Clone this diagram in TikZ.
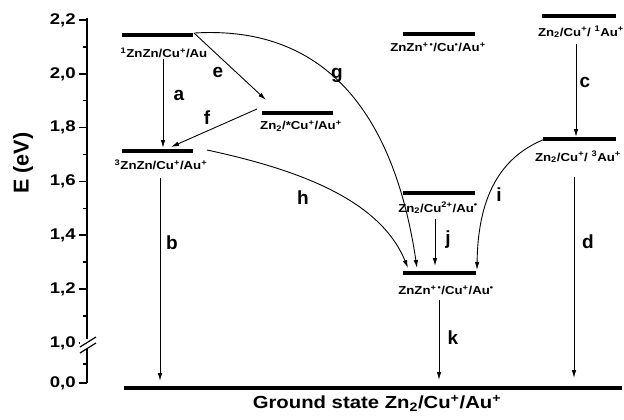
\documentclass[tikz,border=0pt]{standalone}
\usepackage{fontspec}
\setmainfont{Liberation Sans}
\usetikzlibrary{arrows.meta}
\begin{document}
\begin{tikzpicture}[x=1pt,y=-1pt,
  level/.style={fill=black,draw=none,inner sep=0pt,minimum height=3.2pt},
  statelab/.style={inner sep=0pt,xscale=1.15,font=\bfseries\fontsize{11.5}{12}\selectfont},
  letter/.style={inner sep=0pt,font=\bfseries\fontsize{19}{20}\selectfont},
  ticklab/.style={inner sep=0pt,anchor=east,xscale=1.2,font=\bfseries\fontsize{15.5}{16}\selectfont},
  arr/.style={line width=0.9pt,-{Latex[length=8pt,width=4.5pt]}},
  axisline/.style={line width=1.5pt}]
\useasboundingbox (0,0) rectangle (624,420);
% axis
\coordinate (ax0) at (87,18);
\coordinate (ax1) at (87,383);
\draw[axisline] (ax0) -- (ax1);
\foreach \e/\lab in {2.2/{2,2},2.0/{2,0},1.8/{1,8},1.6/{1,6},1.4/{1,4},1.2/{1,2},1.0/{1,0}}{
  \pgfmathsetmacro{\yy}{20+(2.2-\e)*269}
  \draw[axisline] (79,\yy) -- (87,\yy);
  \node[ticklab] at (76,\yy) {\lab};
}
\foreach \e in {2.1,1.9,1.7,1.5,1.3,1.1}{
  \pgfmathsetmacro{\yy}{20+(2.2-\e)*269}
  \draw[axisline] (83,\yy) -- (87,\yy);
}
\draw[axisline] (83,364) -- (87,364);
\draw[axisline] (79,383) -- (87,383);
\node[ticklab] at (76,383) {0,0};
% axis break
\fill[white] (80,339) rectangle (95,349);
\draw[line width=1.2pt] (80,347) -- (96,337);
\draw[line width=1.2pt] (80,353) -- (96,343);
\node[rotate=90,inner sep=0pt,font=\bfseries\fontsize{21.5}{22}\selectfont] (ylab) at (23,163) {E (eV)};
% levels
\node[level,minimum width=71pt] (L1) at (157.5,35) {};
\node[level,minimum width=71pt] (L2) at (157.5,151) {};
\node[level,minimum width=71pt] (L3) at (297.5,113) {};
\node[level,minimum width=72pt] (L4) at (439,34) {};
\node[level,minimum width=74pt] (L5) at (579,16) {};
\node[level,minimum width=73pt] (L6) at (579.5,139) {};
\node[level,minimum width=72pt] (L7) at (439,193) {};
\node[level,minimum width=73pt] (L8) at (439.5,273) {};
\node[level,minimum width=498pt] (G) at (373,388) {};
% state labels
\node[statelab] (T1) at (164,53) {\textsuperscript{1}ZnZn/Cu\textsuperscript{+}/Au};
\node[statelab] (T2) at (161,165) {\textsuperscript{3}ZnZn/Cu\textsuperscript{+}/Au\textsuperscript{+}};
\node[statelab] (T3) at (301,126) {Zn\textsubscript{2}/*Cu\textsuperscript{+}/Au\textsuperscript{+}};
\node[statelab] (T4) at (438,47) {ZnZn\textsuperscript{+\,•}/Cu\textsuperscript{•}/Au\textsuperscript{+}};
\node[statelab] (T5) at (581,32) {Zn\textsubscript{2}/Cu\textsuperscript{+}/ \textsuperscript{1}Au\textsuperscript{+}};
\node[statelab] (T6) at (578,157) {Zn\textsubscript{2}/Cu\textsuperscript{+}/ \textsuperscript{3}Au\textsuperscript{+}};
\node[statelab] (T7) at (438,208) {Zn\textsubscript{2}/Cu\textsuperscript{2+}/Au\textsuperscript{•}};
\node[statelab] (T8) at (446,290) {ZnZn\textsuperscript{+\,•}/Cu\textsuperscript{+}/Au\textsuperscript{•}};
\node[inner sep=0pt,xscale=1.16,font=\bfseries\fontsize{17.5}{18}\selectfont] (GT) at (377,403) {Ground state Zn\textsubscript{2}/Cu\textsuperscript{+}/Au\textsuperscript{+}};
% arrow end points
\coordinate (a0) at (163,59);  \coordinate (a1) at (163,148);
\coordinate (b0) at (160,178); \coordinate (b1) at (160,381);
\coordinate (c0) at (576,44);  \coordinate (c1) at (576,137);
\coordinate (d0) at (574,177); \coordinate (d1) at (574,378);
\coordinate (e0) at (194,33);  \coordinate (e1) at (266,100);
\coordinate (f0) at (257,109); \coordinate (f1) at (171,147);
\coordinate (g0) at (195,33);  \coordinate (g1) at (417,268);
\coordinate (h0) at (207,150); \coordinate (h1) at (408,268);
\coordinate (i0) at (545,139); \coordinate (i1) at (477,270);
\coordinate (j0) at (435,219); \coordinate (j1) at (435,266);
\coordinate (k0) at (439,300); \coordinate (k1) at (439,380);
% arrows
\draw[arr] (a0) -- (a1);
\draw[arr] (b0) -- (b1);
\draw[arr] (c0) -- (c1);
\draw[arr] (d0) -- (d1);
\draw[arr] (e0) -- (e1);
\draw[arr] (f0) -- (f1);
\draw[arr] (g0) .. controls (330,25) and (395,120) .. (g1);
\draw[arr] (h0) .. controls (300,170) and (380,200) .. (h1);
\draw[arr] (i0) .. controls (505,155) and (478,190) .. (i1);
\draw[arr] (j0) -- (j1);
\draw[arr] (k0) -- (k1);
% letters
\node[letter] (la) at (179,95) {a};
\node[letter] (lb) at (172,243) {b};
\node[letter] (lc) at (585,82) {c};
\node[letter] (ld) at (588,242) {d};
\node[letter] (le) at (218,72) {e};
\node[letter] (lf) at (207,118) {f};
\node[letter] (lg) at (337,75) {g};
\node[letter] (lh) at (303,198) {h};
\node[letter] (li) at (499,195) {i};
\node[letter] (lj) at (448,240) {j};
\node[letter] (lk) at (453,338) {k};
\end{tikzpicture}
\end{document}
